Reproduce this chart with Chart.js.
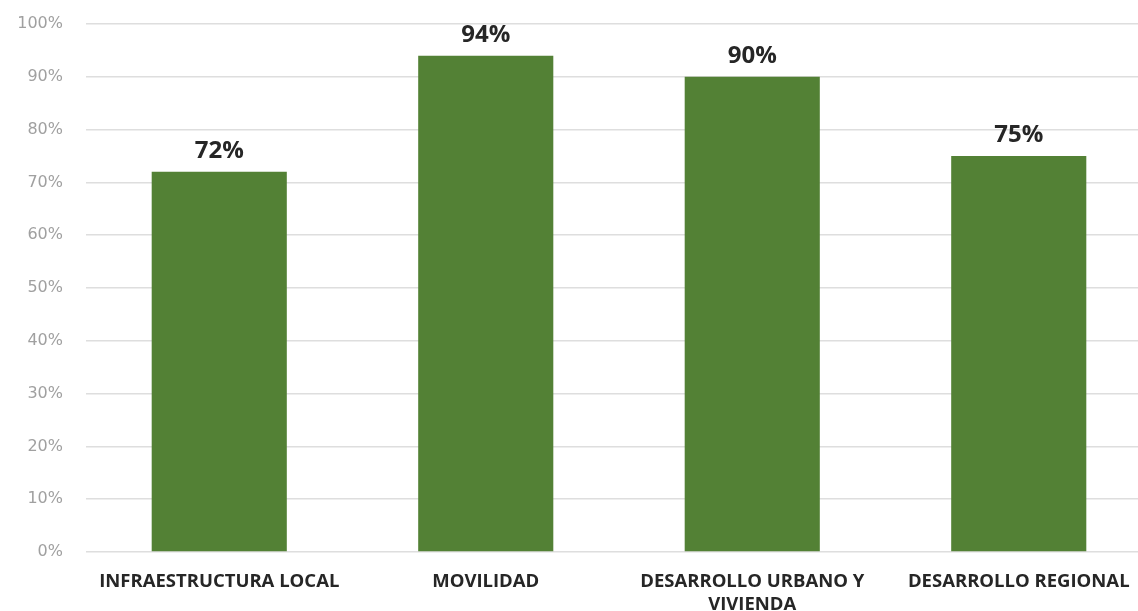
<!DOCTYPE html>
<html>
  <head>
    <title>Avance</title>
    <style>
      html, body { margin: 0; padding: 0; background: #fff; overflow: hidden; }
    </style>
  </head>
  <body>
    <div style="width: 1152px; height: 611px">
      <canvas id="canvas"></canvas>
    </div>
    <script src="https://cdn.jsdelivr.net/npm/chart.js@4"></script>
    <script>
      const categories = [
        "INFRAESTRUCTURA LOCAL",
        ["MOVILIDAD"],
        ["DESARROLLO URBANO Y", "VIVIENDA"],
        "DESARROLLO REGIONAL"
      ];
      const avance = [72, 94, 90, 75];
      const yTicks = [0, 10, 20, 30, 40, 50, 60, 70, 80, 90, 100];

      const valueLabels = {
        id: "valueLabels",
        afterDatasetsDraw(chart) {
          const ctx = chart.ctx;
          const meta = chart.getDatasetMeta(0);
          ctx.save();
          ctx.font = "bold 24px 'Open Sans'";
          ctx.fillStyle = "#262626";
          ctx.textAlign = "center";
          ctx.textBaseline = "bottom";
          meta.data.forEach((bar, i) => {
            ctx.fillText(avance[i] + "%", bar.x, bar.y - 9);
          });
          ctx.restore();
        }
      };

      new Chart(document.getElementById("canvas").getContext("2d"), {
        type: "bar",
        data: {
          labels: categories,
          datasets: [
            {
              label: "Avance",
              data: avance,
              backgroundColor: "#538135",
              categoryPercentage: 1,
              barPercentage: 0.507
            }
          ]
        },
        options: {
          responsive: true,
          maintainAspectRatio: false,
          animation: false,
          layout: { padding: { top: 24, right: 0, left: 0, bottom: 0 } },
          plugins: {
            legend: { display: false },
            tooltip: { enabled: false }
          },
          scales: {
            x: {
              grid: { display: false },
              border: { display: false },
              ticks: {
                color: "#262626",
                font: { family: "'Open Sans'", size: 18.5, weight: "bold", lineHeight: 1.25 },
                maxRotation: 0,
                autoSkip: false,
                padding: 10
              },
              afterFit(scale) {
                scale.height = 59;
              }
            },
            y: {
              min: 0,
              max: 100,
              afterBuildTicks(scale) {
                scale.ticks = yTicks.map((v) => ({ value: v }));
              },
              // invisible tick marks push labels away from the gridlines
              grid: {
                color: "#dedede",
                lineWidth: 1.5,
                drawTicks: true,
                tickLength: 21,
                tickColor: "rgba(0,0,0,0)"
              },
              border: { display: false },
              ticks: {
                color: "#a0a0a0",
                font: { family: "'DejaVu Sans'", size: 16 },
                padding: 2,
                callback: (v) => v + "%"
              },
              afterFit(scale) {
                scale.width = 86;
              }
            }
          }
        },
        plugins: [valueLabels]
      });
    </script>
  </body>
</html>
